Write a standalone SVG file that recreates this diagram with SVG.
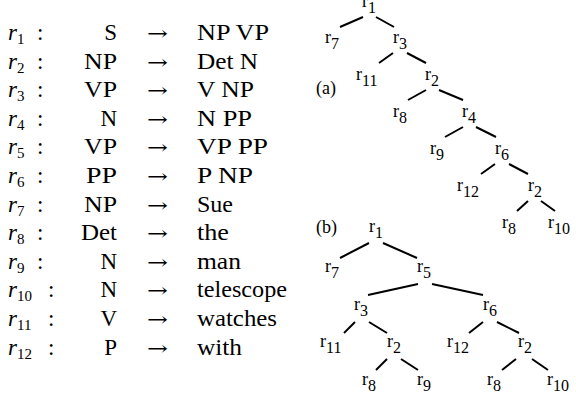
<svg xmlns="http://www.w3.org/2000/svg" width="576" height="401" viewBox="0 0 576 401">
<style>
.t{font-family:'Liberation Serif','Times New Roman',Times,'DejaVu Serif',serif;font-size:23px;fill:#000}
.ri{font-family:'Liberation Serif','Times New Roman',Times,'DejaVu Serif',serif;font-style:italic;font-size:23px;fill:#000}
.sub{font-style:normal;font-size:15px}
.ar{font-family:'DejaVu Serif','Liberation Serif',serif;font-size:20px;fill:#000}
.n{font-family:'Liberation Serif','Times New Roman',Times,'DejaVu Serif',serif;font-size:18px;fill:#000}
.ns{font-size:16px}
.e line{stroke:#000;stroke-width:2}
</style>
<rect width="576" height="401" fill="#fff"/>
<g id="rules">
<g class="ri">
<text x="8" y="40">r<tspan class="sub" dy="4">1</tspan></text>
<text x="8" y="68.6">r<tspan class="sub" dy="4">2</tspan></text>
<text x="8" y="97.2">r<tspan class="sub" dy="4">3</tspan></text>
<text x="8" y="125.8">r<tspan class="sub" dy="4">4</tspan></text>
<text x="8" y="154.4">r<tspan class="sub" dy="4">5</tspan></text>
<text x="8" y="183">r<tspan class="sub" dy="4">6</tspan></text>
<text x="8" y="211.6">r<tspan class="sub" dy="4">7</tspan></text>
<text x="8" y="240.2">r<tspan class="sub" dy="4">8</tspan></text>
<text x="8" y="268.8">r<tspan class="sub" dy="4">9</tspan></text>
<text x="8" y="297.4">r<tspan class="sub" dy="4">10</tspan></text>
<text x="8" y="326">r<tspan class="sub" dy="4">11</tspan></text>
<text x="8" y="354.6">r<tspan class="sub" dy="4">12</tspan></text>
</g>
<g class="t">
<text x="37" y="40">:</text>
<text x="37" y="68.6">:</text>
<text x="37" y="97.2">:</text>
<text x="37" y="125.8">:</text>
<text x="37" y="154.4">:</text>
<text x="37" y="183">:</text>
<text x="37" y="211.6">:</text>
<text x="37" y="240.2">:</text>
<text x="37" y="268.8">:</text>
<text x="48" y="297.4">:</text>
<text x="48" y="326">:</text>
<text x="48" y="354.6">:</text>
</g>
<g class="t" text-anchor="end">
<text x="117" y="40">S</text>
<text x="117" y="68.6" textLength="33" lengthAdjust="spacingAndGlyphs">NP</text>
<text x="117" y="97.2" textLength="33" lengthAdjust="spacingAndGlyphs">VP</text>
<text x="117" y="125.8">N</text>
<text x="117" y="154.4" textLength="33" lengthAdjust="spacingAndGlyphs">VP</text>
<text x="117" y="183" textLength="31" lengthAdjust="spacingAndGlyphs">PP</text>
<text x="117" y="211.6" textLength="33" lengthAdjust="spacingAndGlyphs">NP</text>
<text x="117" y="240.2" textLength="36" lengthAdjust="spacingAndGlyphs">Det</text>
<text x="117" y="268.8">N</text>
<text x="117" y="297.4">N</text>
<text x="117" y="326">V</text>
<text x="117" y="354.6">P</text>
</g>
<g class="ar">
<text x="147" y="40" textLength="21" lengthAdjust="spacingAndGlyphs">→</text>
<text x="147" y="68.6" textLength="21" lengthAdjust="spacingAndGlyphs">→</text>
<text x="147" y="97.2" textLength="21" lengthAdjust="spacingAndGlyphs">→</text>
<text x="147" y="125.8" textLength="21" lengthAdjust="spacingAndGlyphs">→</text>
<text x="147" y="154.4" textLength="21" lengthAdjust="spacingAndGlyphs">→</text>
<text x="147" y="183" textLength="21" lengthAdjust="spacingAndGlyphs">→</text>
<text x="147" y="211.6" textLength="21" lengthAdjust="spacingAndGlyphs">→</text>
<text x="147" y="240.2" textLength="21" lengthAdjust="spacingAndGlyphs">→</text>
<text x="147" y="268.8" textLength="21" lengthAdjust="spacingAndGlyphs">→</text>
<text x="147" y="297.4" textLength="21" lengthAdjust="spacingAndGlyphs">→</text>
<text x="147" y="326" textLength="21" lengthAdjust="spacingAndGlyphs">→</text>
<text x="147" y="354.6" textLength="21" lengthAdjust="spacingAndGlyphs">→</text>
</g>
<g class="t">
<text x="197" y="40" textLength="72" lengthAdjust="spacingAndGlyphs">NP VP</text>
<text x="197" y="68.6" textLength="61" lengthAdjust="spacingAndGlyphs">Det N</text>
<text x="197" y="97.2" textLength="57" lengthAdjust="spacingAndGlyphs">V NP</text>
<text x="197" y="125.8" textLength="55" lengthAdjust="spacingAndGlyphs">N PP</text>
<text x="197" y="154.4" textLength="71" lengthAdjust="spacingAndGlyphs">VP PP</text>
<text x="197" y="183" textLength="56" lengthAdjust="spacingAndGlyphs">P NP</text>
<text x="197" y="211.6" textLength="36" lengthAdjust="spacingAndGlyphs">Sue</text>
<text x="197" y="240.2" textLength="32" lengthAdjust="spacingAndGlyphs">the</text>
<text x="197" y="268.8" textLength="44" lengthAdjust="spacingAndGlyphs">man</text>
<text x="197" y="297.4" textLength="90" lengthAdjust="spacingAndGlyphs">telescope</text>
<text x="197" y="326" textLength="80" lengthAdjust="spacingAndGlyphs">watches</text>
<text x="197" y="354.6" textLength="45" lengthAdjust="spacingAndGlyphs">with</text>
</g>
</g>
<text class="n" x="316" y="94">(a)</text>
<text class="n" x="316" y="233">(b)</text>
<g id="treeA" class="n">
<g id="a_r1"><text x="362" y="7">r<tspan class="ns" dy="6">1</tspan></text></g>
<g id="a_r7"><text x="325" y="43">r<tspan class="ns" dy="6">7</tspan></text></g>
<g id="a_r3"><text x="393" y="43">r<tspan class="ns" dy="6">3</tspan></text></g>
<g id="a_r11"><text x="356" y="80">r<tspan class="ns" dy="6">11</tspan></text></g>
<g id="a_r2"><text x="425" y="80">r<tspan class="ns" dy="6">2</tspan></text></g>
<g id="a_r8"><text x="393" y="117">r<tspan class="ns" dy="6">8</tspan></text></g>
<g id="a_r4"><text x="462" y="117">r<tspan class="ns" dy="6">4</tspan></text></g>
<g id="a_r9"><text x="430" y="154">r<tspan class="ns" dy="6">9</tspan></text></g>
<g id="a_r6"><text x="495" y="154">r<tspan class="ns" dy="6">6</tspan></text></g>
<g id="a_r12"><text x="457" y="191">r<tspan class="ns" dy="6">12</tspan></text></g>
<g id="a_r2b"><text x="528" y="191">r<tspan class="ns" dy="6">2</tspan></text></g>
<g id="a_r8b"><text x="502" y="228">r<tspan class="ns" dy="6">8</tspan></text></g>
<g id="a_r10"><text x="548" y="228">r<tspan class="ns" dy="6">10</tspan></text></g>
</g>
<g id="treeB" class="n">
<g id="b_r1"><text x="369" y="232">r<tspan class="ns" dy="6">1</tspan></text></g>
<g id="b_r7"><text x="325" y="272">r<tspan class="ns" dy="6">7</tspan></text></g>
<g id="b_r5"><text x="417" y="272">r<tspan class="ns" dy="6">5</tspan></text></g>
<g id="b_r3"><text x="354" y="310">r<tspan class="ns" dy="6">3</tspan></text></g>
<g id="b_r6"><text x="483" y="310">r<tspan class="ns" dy="6">6</tspan></text></g>
<g id="b_r11"><text x="320" y="347">r<tspan class="ns" dy="6">11</tspan></text></g>
<g id="b_r2"><text x="387" y="347">r<tspan class="ns" dy="6">2</tspan></text></g>
<g id="b_r12"><text x="447" y="347">r<tspan class="ns" dy="6">12</tspan></text></g>
<g id="b_r2b"><text x="518" y="347">r<tspan class="ns" dy="6">2</tspan></text></g>
<g id="b_r8"><text x="362" y="385">r<tspan class="ns" dy="6">8</tspan></text></g>
<g id="b_r9"><text x="417" y="385">r<tspan class="ns" dy="6">9</tspan></text></g>
<g id="b_r8b"><text x="487" y="385">r<tspan class="ns" dy="6">8</tspan></text></g>
<g id="b_r10"><text x="547" y="385">r<tspan class="ns" dy="6">10</tspan></text></g>
</g>
<g id="connectors" class="e">
<line x1="363" y1="17" x2="340" y2="27"/>
<line x1="376" y1="17" x2="394" y2="27"/>
<line x1="393" y1="53" x2="379" y2="63"/>
<line x1="407" y1="53" x2="426" y2="63"/>
<line x1="426" y1="90" x2="408" y2="100"/>
<line x1="439" y1="90" x2="463" y2="100"/>
<line x1="463" y1="127" x2="445" y2="137"/>
<line x1="476" y1="127" x2="496" y2="137"/>
<line x1="495" y1="164" x2="481" y2="174"/>
<line x1="509" y1="164" x2="528" y2="174"/>
<line x1="528" y1="201" x2="517" y2="211"/>
<line x1="541" y1="201" x2="555" y2="211"/>
<line x1="369" y1="243" x2="340" y2="258"/>
<line x1="383" y1="243" x2="417" y2="258"/>
<line x1="418" y1="284" x2="368" y2="295"/>
<line x1="432" y1="284" x2="483" y2="295"/>
<line x1="355" y1="322" x2="344" y2="333"/>
<line x1="369" y1="322" x2="387" y2="333"/>
<line x1="483" y1="322" x2="469" y2="333"/>
<line x1="497" y1="322" x2="519" y2="333"/>
<line x1="387" y1="359" x2="376" y2="370"/>
<line x1="401" y1="359" x2="418" y2="370"/>
<line x1="516" y1="359" x2="502" y2="370"/>
<line x1="532" y1="359" x2="548" y2="370"/>
</g>
</svg>
